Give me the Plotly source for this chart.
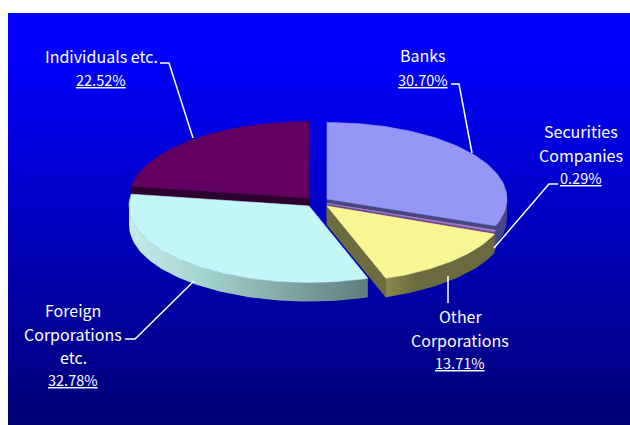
import math
import plotly.graph_objects as go

categories = ["Banks", "Securities Companies", "Other Corporations", "Foreign Corporations etc.", "Individuals etc."]
shares = [30.70, 0.29, 13.71, 32.78, 22.52]
share_labels = ["30.70%", "0.29%", "13.71%", "32.78%", "22.52%"]
name_lines = [["Banks"], ["Securities", "Companies"], ["Other", "Corporations"], ["Foreign", "Corporations", "etc."], ["Individuals etc."]]

top_colors = ["#9696F6", "#A078D0", "#F8F794", "#C3F7F7", "#610060"]
# wall colour scale of each slice, left to right
wall_scales = [
    [[0, "rgb(70,70,135)"], [1, "rgb(70,70,135)"]],
    [[0, "rgb(110,70,130)"], [1, "rgb(110,70,130)"]],
    [[0, "rgb(140,135,80)"], [0.3, "rgb(106,106,62)"], [1, "rgb(106,106,62)"]],
    [[0, "rgb(198,235,235)"], [0.3, "rgb(165,212,208)"], [1, "rgb(95,125,125)"]],
    [[0, "rgb(45,0,45)"], [1, "rgb(45,0,45)"]],
]
cut_colors = ["#46467F", "#6E4682", "#6C6C3E", "#5F7D7D", "#2D002D"]
# which radial edge of each slice shows a cut face: 1 = closing edge, 0 = opening edge
cut_edge = [1, 1, 1, None, 0]

# layout, in page pixels
apex = [(327, 199), (327, 203.5), (327, 206), (309, 206), (309, 198)]
RX, RY, DEPTH = 180, 76.5, 19
label_x = [423, 581, 460, 73, 101]
label_y = [[55, 79], [131, 155, 177], [316, 340, 362], [310, 334, 357, 379], [56, 79]]
leaders = [
    [(451, 84), (459, 84), (472, 153)],
    [(558, 184), (549, 184), (494, 248)],
    [(448, 276), (448, 303)],
    [(125, 339), (135, 339), (194, 281)],
    [(160, 63), (169, 63), (193, 138)],
]
draw_order = [4, 3, 0, 1, 2]
BG_TOP, BG_BOTTOM, BG_LEFT, BG_RIGHT = 13, 425, 8, 630


def rim(i, deg, dy=0):
    a = math.radians(deg)
    return apex[i][0] + RX * math.sin(a), apex[i][1] - RY * math.cos(a) + dy


def poly(pts, color, lw=0.6, gradient=None):
    kw = dict(fillcolor=color) if gradient is None else dict(fillgradient=gradient)
    return go.Scatter(x=[p[0] for p in pts] + [pts[0][0]], y=[p[1] for p in pts] + [pts[0][1]],
                      mode="lines", fill="toself", line=dict(color=color, width=lw),
                      hoverinfo="skip", showlegend=False, **kw)


fig = go.Figure()

# background gradient
edges = list(range(BG_TOP, BG_BOTTOM + 1, 2))
fig.add_trace(go.Heatmap(x=[BG_LEFT, BG_RIGHT], y=edges, z=[[e] for e in edges[:-1]],
                         colorscale=[[0, "rgb(0,0,255)"], [0.12, "rgb(0,0,250)"], [1, "rgb(0,0,118)"]],
                         showscale=False, hoverinfo="skip"))

cum = 0
bounds = []
for s in shares:
    bounds.append((cum * 3.6, (cum + s) * 3.6))
    cum += s

for i in draw_order:
    a0, a1 = bounds[i]
    # cut face of the slice, on the edge that faces the viewer
    if cut_edge[i] is not None:
        e = rim(i, a1 if cut_edge[i] else a0)
        ax, ay = apex[i]
        fig.add_trace(poly([(ax, ay), e, (e[0], e[1] + DEPTH), (ax, ay + DEPTH)], cut_colors[i]))
    # outer wall, visible on the lower half only
    lo, hi = max(a0, 90), min(a1, 270)
    if hi > lo:
        n = max(2, int((hi - lo) / 1.5))
        arc = [lo + (hi - lo) * k / n for k in range(n + 1)]
        pts = [rim(i, d) for d in arc] + [rim(i, d, DEPTH) for d in reversed(arc)]
        fig.add_trace(poly(pts, "rgba(0,0,0,0)", lw=0,
                           gradient=dict(type="horizontal", colorscale=wall_scales[i])))
    # top face
    steps = max(2, int((a1 - a0) / 1.5))
    pts = [apex[i]] + [rim(i, a0 + (a1 - a0) * k / steps) for k in range(steps + 1)]
    fig.add_trace(poly(pts, top_colors[i], lw=0.8 if i == 1 else 0.6))

# leader lines
for pts in leaders:
    fig.add_trace(go.Scatter(x=[p[0] for p in pts], y=[p[1] for p in pts], mode="lines",
                             line=dict(color="white", width=1.5), hoverinfo="skip", showlegend=False))

# labels
FONT = "Noto Sans CJK JP"
for i in range(len(categories)):
    for line, y in zip(name_lines[i], label_y[i]):
        fig.add_annotation(x=label_x[i], y=y, text=line, showarrow=False,
                           font=dict(family=FONT, size=16, color="white"))
    fig.add_annotation(x=label_x[i], y=label_y[i][len(name_lines[i])], text=share_labels[i], showarrow=False,
                       font=dict(family=FONT, size=14.5, color="white", lineposition="under"))

fig.update_layout(
    width=630, height=425, autosize=False,
    margin=dict(l=0, r=0, t=0, b=0),
    paper_bgcolor="white", plot_bgcolor="white", showlegend=False,
    xaxis=dict(range=[0, 630], visible=False, fixedrange=True),
    yaxis=dict(range=[425, 0], visible=False, fixedrange=True),
)
fig.write_html("out.html", config=dict(displayModeBar=False),
               post_script="document.body.style.margin='0';document.documentElement.style.overflow='hidden';")
